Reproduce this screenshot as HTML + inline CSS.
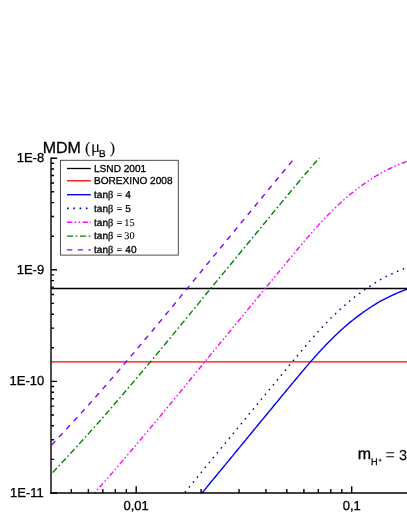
<!DOCTYPE html>
<html><head><meta charset="utf-8"><style>
html,body{margin:0;padding:0;background:#fff;}
body{width:407px;height:527px;overflow:hidden;}
svg{display:block;will-change:transform;}
text{font-family:"Liberation Sans",sans-serif;fill:#000;stroke:#000;stroke-width:0.3px;}
.se{font-family:"Liberation Serif",serif;stroke-width:0.1px;}
.b{stroke-width:0.25px;}
.c{fill:none;stroke-width:1.4;}
</style></head><body>
<svg width="407" height="527" viewBox="0 0 407 527">
<rect width="407" height="527" fill="#fff"/>
<!-- data -->
<path class="c" d="M51,288.5H408" stroke="#000" stroke-width="1.1"/>
<path class="c" d="M51,361.9H408" stroke="#f00" stroke-width="1.2"/>
<path class="c" d="M202.1,493.0 L203.0,491.8 L204.0,490.6 L205.0,489.4 L206.0,488.2 L207.0,486.9 L208.0,485.7 L209.0,484.5 L210.0,483.2 L211.0,482.0 L212.0,480.8 L213.0,479.6 L214.0,478.4 L215.0,477.2 L216.0,476.0 L217.0,474.8 L218.0,473.6 L219.0,472.3 L220.0,471.1 L221.0,469.9 L222.0,468.7 L223.0,467.5 L224.0,466.3 L225.0,465.1 L226.0,463.9 L227.0,462.6 L228.0,461.4 L229.0,460.2 L230.0,459.0 L231.0,457.8 L232.0,456.6 L233.0,455.4 L234.0,454.1 L235.0,452.9 L236.0,451.7 L237.0,450.5 L238.0,449.3 L239.0,448.1 L240.0,446.9 L241.0,445.6 L242.0,444.4 L243.0,443.2 L244.0,442.0 L245.0,440.8 L246.0,439.6 L247.0,438.3 L248.0,437.1 L249.0,435.9 L250.0,434.7 L251.0,433.5 L252.0,432.3 L253.0,431.0 L254.0,429.8 L255.0,428.6 L256.0,427.4 L257.0,426.2 L258.0,425.0 L259.0,423.8 L260.0,422.5 L261.0,421.3 L262.0,420.1 L263.0,418.9 L264.0,417.7 L265.0,416.5 L266.0,415.2 L267.0,414.0 L268.0,412.8 L269.0,411.6 L270.0,410.4 L271.0,409.2 L272.0,408.0 L273.0,406.7 L274.0,405.5 L275.0,404.3 L276.0,403.1 L277.0,401.9 L278.0,400.7 L279.0,399.5 L280.0,398.2 L281.0,397.0 L282.0,395.8 L283.0,394.6 L284.0,393.4 L285.0,392.2 L286.0,391.0 L287.0,389.8 L288.0,388.6 L289.0,387.4 L290.0,386.2 L291.0,385.0 L292.0,383.8 L293.0,382.6 L294.0,381.4 L295.0,380.2 L296.0,379.0 L297.0,377.8 L298.0,376.6 L299.0,375.4 L300.0,374.2 L301.0,373.0 L302.0,371.8 L303.0,370.6 L304.0,369.5 L305.0,368.3 L306.0,367.1 L307.0,365.9 L308.0,364.8 L309.0,363.6 L310.0,362.4 L311.0,361.3 L312.0,360.1 L313.0,359.0 L314.0,357.9 L315.0,356.7 L316.0,355.6 L317.0,354.5 L318.0,353.4 L319.0,352.3 L320.0,351.2 L321.0,350.1 L322.0,349.0 L323.0,348.0 L324.0,346.9 L325.0,345.9 L326.0,344.8 L327.0,343.8 L328.0,342.7 L329.0,341.7 L330.0,340.7 L331.0,339.7 L332.0,338.7 L333.0,337.7 L334.0,336.7 L335.0,335.8 L336.0,334.8 L337.0,333.9 L338.0,332.9 L339.0,332.0 L340.0,331.1 L341.0,330.2 L342.0,329.3 L343.0,328.4 L344.0,327.5 L345.0,326.6 L346.0,325.8 L347.0,324.9 L348.0,324.1 L349.0,323.2 L350.0,322.4 L351.0,321.6 L352.0,320.8 L353.0,320.0 L354.0,319.2 L355.0,318.4 L356.0,317.6 L357.0,316.9 L358.0,316.1 L359.0,315.4 L360.0,314.6 L361.0,313.9 L362.0,313.2 L363.0,312.4 L364.0,311.7 L365.0,311.0 L366.0,310.3 L367.0,309.6 L368.0,309.0 L369.0,308.3 L370.0,307.6 L371.0,307.0 L372.0,306.3 L373.0,305.7 L374.0,305.1 L375.0,304.4 L376.0,303.8 L377.0,303.2 L378.0,302.6 L379.0,302.0 L380.0,301.4 L381.0,300.9 L382.0,300.3 L383.0,299.8 L384.0,299.3 L385.0,298.8 L386.0,298.3 L387.0,297.8 L388.0,297.3 L389.0,296.8 L390.0,296.3 L391.0,295.8 L392.0,295.4 L393.0,294.9 L394.0,294.5 L395.0,294.0 L396.0,293.6 L397.0,293.1 L398.0,292.7 L399.0,292.3 L400.0,291.9 L401.0,291.5 L402.0,291.1 L403.0,290.7 L404.0,290.3 L405.0,289.9 L406.0,289.5 L407.0,289.2 L408.0,288.8 L409.0,288.4" stroke="#0000ff"/>
<path class="c" d="M184.4,493.0 L185.0,492.3 L186.0,491.1 L187.0,489.9 L188.0,488.6 L189.0,487.4 L190.0,486.2 L191.0,485.0 L192.0,483.8 L193.0,482.5 L194.0,481.3 L195.0,480.1 L196.0,478.9 L197.0,477.6 L198.0,476.4 L199.0,475.2 L200.0,474.0 L201.0,472.7 L202.0,471.5 L203.0,470.3 L204.0,469.0 L205.0,467.8 L206.0,466.6 L207.0,465.4 L208.0,464.1 L209.0,462.9 L210.0,461.7 L211.0,460.5 L212.0,459.3 L213.0,458.0 L214.0,456.8 L215.0,455.6 L216.0,454.4 L217.0,453.2 L218.0,452.0 L219.0,450.8 L220.0,449.6 L221.0,448.4 L222.0,447.1 L223.0,445.9 L224.0,444.7 L225.0,443.5 L226.0,442.3 L227.0,441.1 L228.0,439.9 L229.0,438.6 L230.0,437.4 L231.0,436.2 L232.0,435.0 L233.0,433.8 L234.0,432.6 L235.0,431.4 L236.0,430.1 L237.0,428.9 L238.0,427.7 L239.0,426.5 L240.0,425.3 L241.0,424.1 L242.0,422.9 L243.0,421.6 L244.0,420.4 L245.0,419.2 L246.0,418.0 L247.0,416.8 L248.0,415.6 L249.0,414.3 L250.0,413.1 L251.0,411.9 L252.0,410.7 L253.0,409.5 L254.0,408.3 L255.0,407.0 L256.0,405.8 L257.0,404.6 L258.0,403.4 L259.0,402.2 L260.0,401.0 L261.0,399.8 L262.0,398.5 L263.0,397.3 L264.0,396.1 L265.0,394.9 L266.0,393.7 L267.0,392.5 L268.0,391.2 L269.0,390.0 L270.0,388.8 L271.0,387.6 L272.0,386.4 L273.0,385.2 L274.0,384.0 L275.0,382.7 L276.0,381.5 L277.0,380.3 L278.0,379.1 L279.0,377.9 L280.0,376.7 L281.0,375.5 L282.0,374.3 L283.0,373.0 L284.0,371.8 L285.0,370.6 L286.0,369.4 L287.0,368.2 L288.0,367.0 L289.0,365.8 L290.0,364.6 L291.0,363.4 L292.0,362.2 L293.0,361.0 L294.0,359.8 L295.0,358.6 L296.0,357.4 L297.0,356.2 L298.0,355.0 L299.0,353.8 L300.0,352.7 L301.0,351.5 L302.0,350.3 L303.0,349.1 L304.0,347.9 L305.0,346.7 L306.0,345.5 L307.0,344.4 L308.0,343.2 L309.0,342.0 L310.0,340.9 L311.0,339.7 L312.0,338.6 L313.0,337.4 L314.0,336.3 L315.0,335.2 L316.0,334.1 L317.0,332.9 L318.0,331.8 L319.0,330.7 L320.0,329.6 L321.0,328.6 L322.0,327.5 L323.0,326.4 L324.0,325.3 L325.0,324.3 L326.0,323.2 L327.0,322.2 L328.0,321.2 L329.0,320.1 L330.0,319.1 L331.0,318.1 L332.0,317.1 L333.0,316.1 L334.0,315.2 L335.0,314.2 L336.0,313.2 L337.0,312.3 L338.0,311.4 L339.0,310.4 L340.0,309.5 L341.0,308.6 L342.0,307.7 L343.0,306.8 L344.0,305.9 L345.0,305.1 L346.0,304.2 L347.0,303.3 L348.0,302.5 L349.0,301.6 L350.0,300.8 L351.0,300.0 L352.0,299.2 L353.0,298.4 L354.0,297.6 L355.0,296.8 L356.0,296.0 L357.0,295.3 L358.0,294.5 L359.0,293.8 L360.0,293.1 L361.0,292.3 L362.0,291.6 L363.0,290.9 L364.0,290.2 L365.0,289.5 L366.0,288.8 L367.0,288.1 L368.0,287.4 L369.0,286.7 L370.0,286.1 L371.0,285.4 L372.0,284.8 L373.0,284.1 L374.0,283.5 L375.0,282.9 L376.0,282.2 L377.0,281.6 L378.0,281.0 L379.0,280.4 L380.0,279.9 L381.0,279.3 L382.0,278.8 L383.0,278.2 L384.0,277.7 L385.0,277.2 L386.0,276.7 L387.0,276.2 L388.0,275.7 L389.0,275.2 L390.0,274.7 L391.0,274.3 L392.0,273.8 L393.0,273.3 L394.0,272.9 L395.0,272.4 L396.0,272.0 L397.0,271.6 L398.0,271.1 L399.0,270.7 L400.0,270.3 L401.0,269.9 L402.0,269.5 L403.0,269.1 L404.0,268.7 L405.0,268.3 L406.0,268.0 L407.0,267.6 L408.0,267.2 L409.0,266.9" stroke="#000080" stroke-dasharray="1.6 4.7" stroke-width="1.7" stroke-dashoffset="5.5"/>
<path class="c" d="M94.5,493.0 L95.0,492.5 L96.0,491.3 L97.0,490.2 L98.0,489.1 L99.0,488.0 L100.0,486.8 L101.0,485.7 L102.0,484.6 L103.0,483.4 L104.0,482.3 L105.0,481.1 L106.0,480.0 L107.0,478.8 L108.0,477.7 L109.0,476.5 L110.0,475.4 L111.0,474.2 L112.0,473.1 L113.0,471.9 L114.0,470.7 L115.0,469.6 L116.0,468.4 L117.0,467.3 L118.0,466.1 L119.0,464.9 L120.0,463.8 L121.0,462.6 L122.0,461.4 L123.0,460.3 L124.0,459.1 L125.0,457.9 L126.0,456.8 L127.0,455.6 L128.0,454.4 L129.0,453.2 L130.0,452.1 L131.0,450.9 L132.0,449.7 L133.0,448.5 L134.0,447.4 L135.0,446.2 L136.0,445.0 L137.0,443.8 L138.0,442.6 L139.0,441.4 L140.0,440.3 L141.0,439.1 L142.0,437.9 L143.0,436.7 L144.0,435.5 L145.0,434.3 L146.0,433.1 L147.0,431.9 L148.0,430.7 L149.0,429.6 L150.0,428.4 L151.0,427.2 L152.0,426.0 L153.0,424.8 L154.0,423.6 L155.0,422.4 L156.0,421.2 L157.0,420.0 L158.0,418.8 L159.0,417.6 L160.0,416.4 L161.0,415.2 L162.0,414.0 L163.0,412.8 L164.0,411.5 L165.0,410.3 L166.0,409.1 L167.0,407.9 L168.0,406.7 L169.0,405.5 L170.0,404.3 L171.0,403.1 L172.0,401.9 L173.0,400.7 L174.0,399.5 L175.0,398.2 L176.0,397.0 L177.0,395.8 L178.0,394.6 L179.0,393.4 L180.0,392.2 L181.0,390.9 L182.0,389.7 L183.0,388.5 L184.0,387.3 L185.0,386.1 L186.0,384.9 L187.0,383.6 L188.0,382.4 L189.0,381.2 L190.0,380.0 L191.0,378.7 L192.0,377.5 L193.0,376.3 L194.0,375.1 L195.0,373.9 L196.0,372.6 L197.0,371.4 L198.0,370.2 L199.0,369.0 L200.0,367.7 L201.0,366.5 L202.0,365.3 L203.0,364.0 L204.0,362.8 L205.0,361.6 L206.0,360.4 L207.0,359.1 L208.0,357.9 L209.0,356.7 L210.0,355.4 L211.0,354.2 L212.0,353.0 L213.0,351.8 L214.0,350.6 L215.0,349.4 L216.0,348.2 L217.0,347.0 L218.0,345.8 L219.0,344.5 L220.0,343.3 L221.0,342.1 L222.0,340.9 L223.0,339.7 L224.0,338.5 L225.0,337.3 L226.0,336.1 L227.0,334.8 L228.0,333.6 L229.0,332.4 L230.0,331.2 L231.0,330.0 L232.0,328.8 L233.0,327.6 L234.0,326.3 L235.0,325.1 L236.0,323.9 L237.0,322.7 L238.0,321.5 L239.0,320.3 L240.0,319.1 L241.0,317.8 L242.0,316.6 L243.0,315.4 L244.0,314.2 L245.0,313.0 L246.0,311.8 L247.0,310.5 L248.0,309.3 L249.0,308.1 L250.0,306.9 L251.0,305.7 L252.0,304.5 L253.0,303.2 L254.0,302.0 L255.0,300.8 L256.0,299.6 L257.0,298.4 L258.0,297.2 L259.0,296.0 L260.0,294.7 L261.0,293.5 L262.0,292.3 L263.0,291.1 L264.0,289.9 L265.0,288.7 L266.0,287.4 L267.0,286.2 L268.0,285.0 L269.0,283.8 L270.0,282.6 L271.0,281.4 L272.0,280.2 L273.0,278.9 L274.0,277.7 L275.0,276.5 L276.0,275.3 L277.0,274.1 L278.0,272.9 L279.0,271.7 L280.0,270.4 L281.0,269.2 L282.0,268.0 L283.0,266.8 L284.0,265.6 L285.0,264.4 L286.0,263.2 L287.0,262.0 L288.0,260.8 L289.0,259.6 L290.0,258.4 L291.0,257.2 L292.0,256.0 L293.0,254.8 L294.0,253.6 L295.0,252.4 L296.0,251.2 L297.0,250.0 L298.0,248.8 L299.0,247.6 L300.0,246.4 L301.0,245.2 L302.0,244.0 L303.0,242.8 L304.0,241.7 L305.0,240.5 L306.0,239.3 L307.0,238.1 L308.0,237.0 L309.0,235.8 L310.0,234.6 L311.0,233.5 L312.0,232.3 L313.0,231.2 L314.0,230.1 L315.0,228.9 L316.0,227.8 L317.0,226.7 L318.0,225.6 L319.0,224.5 L320.0,223.4 L321.0,222.3 L322.0,221.2 L323.0,220.2 L324.0,219.1 L325.0,218.1 L326.0,217.0 L327.0,216.0 L328.0,214.9 L329.0,213.9 L330.0,212.9 L331.0,211.9 L332.0,210.9 L333.0,209.9 L334.0,208.9 L335.0,208.0 L336.0,207.0 L337.0,206.1 L338.0,205.1 L339.0,204.2 L340.0,203.3 L341.0,202.4 L342.0,201.5 L343.0,200.6 L344.0,199.7 L345.0,198.8 L346.0,198.0 L347.0,197.1 L348.0,196.3 L349.0,195.4 L350.0,194.6 L351.0,193.8 L352.0,193.0 L353.0,192.2 L354.0,191.4 L355.0,190.6 L356.0,189.8 L357.0,189.1 L358.0,188.3 L359.0,187.6 L360.0,186.8 L361.0,186.1 L362.0,185.4 L363.0,184.6 L364.0,183.9 L365.0,183.2 L366.0,182.5 L367.0,181.8 L368.0,181.2 L369.0,180.5 L370.0,179.8 L371.0,179.2 L372.0,178.5 L373.0,177.9 L374.0,177.3 L375.0,176.6 L376.0,176.0 L377.0,175.4 L378.0,174.8 L379.0,174.2 L380.0,173.6 L381.0,173.1 L382.0,172.5 L383.0,172.0 L384.0,171.5 L385.0,171.0 L386.0,170.5 L387.0,170.0 L388.0,169.5 L389.0,169.0 L390.0,168.5 L391.0,168.0 L392.0,167.6 L393.0,167.1 L394.0,166.7 L395.0,166.2 L396.0,165.8 L397.0,165.3 L398.0,164.9 L399.0,164.5 L400.0,164.1 L401.0,163.7 L402.0,163.3 L403.0,162.9 L404.0,162.5 L405.0,162.1 L406.0,161.7 L407.0,161.4 L408.0,161.0 L409.0,160.6" stroke="#ff00ff" stroke-dasharray="5.2 2.35 1.5 2.4 1.5 2.43" stroke-dashoffset="7.58"/>
<path class="c" d="M51.0,474.3 L52.0,473.2 L53.0,472.2 L54.0,471.1 L55.0,470.1 L56.0,469.0 L57.0,467.9 L58.0,466.9 L59.0,465.8 L60.0,464.7 L61.0,463.7 L62.0,462.6 L63.0,461.5 L64.0,460.4 L65.0,459.4 L66.0,458.3 L67.0,457.2 L68.0,456.1 L69.0,455.0 L70.0,453.9 L71.0,452.9 L72.0,451.8 L73.0,450.7 L74.0,449.6 L75.0,448.5 L76.0,447.4 L77.0,446.3 L78.0,445.2 L79.0,444.1 L80.0,443.0 L81.0,441.9 L82.0,440.8 L83.0,439.7 L84.0,438.6 L85.0,437.5 L86.0,436.4 L87.0,435.3 L88.0,434.2 L89.0,433.1 L90.0,431.9 L91.0,430.8 L92.0,429.7 L93.0,428.6 L94.0,427.5 L95.0,426.4 L96.0,425.2 L97.0,424.1 L98.0,423.0 L99.0,421.9 L100.0,420.7 L101.0,419.6 L102.0,418.5 L103.0,417.3 L104.0,416.2 L105.0,415.0 L106.0,413.9 L107.0,412.7 L108.0,411.6 L109.0,410.4 L110.0,409.3 L111.0,408.1 L112.0,407.0 L113.0,405.8 L114.0,404.6 L115.0,403.5 L116.0,402.3 L117.0,401.2 L118.0,400.0 L119.0,398.8 L120.0,397.7 L121.0,396.5 L122.0,395.3 L123.0,394.2 L124.0,393.0 L125.0,391.8 L126.0,390.7 L127.0,389.5 L128.0,388.3 L129.0,387.1 L130.0,386.0 L131.0,384.8 L132.0,383.6 L133.0,382.4 L134.0,381.3 L135.0,380.1 L136.0,378.9 L137.0,377.7 L138.0,376.5 L139.0,375.3 L140.0,374.2 L141.0,373.0 L142.0,371.8 L143.0,370.6 L144.0,369.4 L145.0,368.2 L146.0,367.0 L147.0,365.8 L148.0,364.6 L149.0,363.5 L150.0,362.3 L151.0,361.1 L152.0,359.9 L153.0,358.7 L154.0,357.5 L155.0,356.3 L156.0,355.1 L157.0,353.9 L158.0,352.7 L159.0,351.5 L160.0,350.3 L161.0,349.1 L162.0,347.9 L163.0,346.7 L164.0,345.4 L165.0,344.2 L166.0,343.0 L167.0,341.8 L168.0,340.6 L169.0,339.4 L170.0,338.2 L171.0,337.0 L172.0,335.8 L173.0,334.6 L174.0,333.4 L175.0,332.1 L176.0,330.9 L177.0,329.7 L178.0,328.5 L179.0,327.3 L180.0,326.1 L181.0,324.8 L182.0,323.6 L183.0,322.4 L184.0,321.2 L185.0,320.0 L186.0,318.8 L187.0,317.5 L188.0,316.3 L189.0,315.1 L190.0,313.9 L191.0,312.6 L192.0,311.4 L193.0,310.2 L194.0,309.0 L195.0,307.8 L196.0,306.5 L197.0,305.3 L198.0,304.1 L199.0,302.9 L200.0,301.6 L201.0,300.4 L202.0,299.2 L203.0,297.9 L204.0,296.7 L205.0,295.5 L206.0,294.3 L207.0,293.0 L208.0,291.8 L209.0,290.6 L210.0,289.3 L211.0,288.1 L212.0,286.9 L213.0,285.7 L214.0,284.5 L215.0,283.3 L216.0,282.1 L217.0,280.9 L218.0,279.7 L219.0,278.4 L220.0,277.2 L221.0,276.0 L222.0,274.8 L223.0,273.6 L224.0,272.4 L225.0,271.2 L226.0,270.0 L227.0,268.7 L228.0,267.5 L229.0,266.3 L230.0,265.1 L231.0,263.9 L232.0,262.7 L233.0,261.5 L234.0,260.2 L235.0,259.0 L236.0,257.8 L237.0,256.6 L238.0,255.4 L239.0,254.2 L240.0,253.0 L241.0,251.7 L242.0,250.5 L243.0,249.3 L244.0,248.1 L245.0,246.9 L246.0,245.7 L247.0,244.4 L248.0,243.2 L249.0,242.0 L250.0,240.8 L251.0,239.6 L252.0,238.4 L253.0,237.1 L254.0,235.9 L255.0,234.7 L256.0,233.5 L257.0,232.3 L258.0,231.1 L259.0,229.9 L260.0,228.6 L261.0,227.4 L262.0,226.2 L263.0,225.0 L264.0,223.8 L265.0,222.6 L266.0,221.3 L267.0,220.1 L268.0,218.9 L269.0,217.7 L270.0,216.5 L271.0,215.3 L272.0,214.1 L273.0,212.8 L274.0,211.6 L275.0,210.4 L276.0,209.2 L277.0,208.0 L278.0,206.8 L279.0,205.6 L280.0,204.3 L281.0,203.1 L282.0,201.9 L283.0,200.7 L284.0,199.5 L285.0,198.3 L286.0,197.1 L287.0,195.9 L288.0,194.7 L289.0,193.5 L290.0,192.3 L291.0,191.1 L292.0,189.9 L293.0,188.7 L294.0,187.5 L295.0,186.3 L296.0,185.1 L297.0,183.9 L298.0,182.7 L299.0,181.5 L300.0,180.3 L301.0,179.1 L302.0,177.9 L303.0,176.7 L304.0,175.6 L305.0,174.4 L306.0,173.2 L307.0,172.0 L308.0,170.9 L309.0,169.7 L310.0,168.5 L311.0,167.4 L312.0,166.2 L313.0,165.1 L314.0,164.0 L315.0,162.8 L316.0,161.7 L317.0,160.6 L318.0,159.5 L319.0,158.4 L319.4,158.0" stroke="#008000" stroke-dasharray="6.1 2.6 1.7 2.6" stroke-dashoffset="10.5"/>
<path class="c" d="M51.0,445.6 L52.0,444.5 L53.0,443.5 L54.0,442.4 L55.0,441.4 L56.0,440.3 L57.0,439.2 L58.0,438.2 L59.0,437.1 L60.0,436.0 L61.0,435.0 L62.0,433.9 L63.0,432.8 L64.0,431.7 L65.0,430.7 L66.0,429.6 L67.0,428.5 L68.0,427.4 L69.0,426.3 L70.0,425.2 L71.0,424.2 L72.0,423.1 L73.0,422.0 L74.0,420.9 L75.0,419.8 L76.0,418.7 L77.0,417.6 L78.0,416.5 L79.0,415.4 L80.0,414.3 L81.0,413.2 L82.0,412.1 L83.0,411.0 L84.0,409.9 L85.0,408.8 L86.0,407.7 L87.0,406.6 L88.0,405.5 L89.0,404.4 L90.0,403.2 L91.0,402.1 L92.0,401.0 L93.0,399.9 L94.0,398.8 L95.0,397.7 L96.0,396.5 L97.0,395.4 L98.0,394.3 L99.0,393.2 L100.0,392.0 L101.0,390.9 L102.0,389.8 L103.0,388.6 L104.0,387.5 L105.0,386.3 L106.0,385.2 L107.0,384.0 L108.0,382.9 L109.0,381.7 L110.0,380.6 L111.0,379.4 L112.0,378.3 L113.0,377.1 L114.0,375.9 L115.0,374.8 L116.0,373.6 L117.0,372.5 L118.0,371.3 L119.0,370.1 L120.0,369.0 L121.0,367.8 L122.0,366.6 L123.0,365.5 L124.0,364.3 L125.0,363.1 L126.0,362.0 L127.0,360.8 L128.0,359.6 L129.0,358.4 L130.0,357.3 L131.0,356.1 L132.0,354.9 L133.0,353.7 L134.0,352.6 L135.0,351.4 L136.0,350.2 L137.0,349.0 L138.0,347.8 L139.0,346.6 L140.0,345.5 L141.0,344.3 L142.0,343.1 L143.0,341.9 L144.0,340.7 L145.0,339.5 L146.0,338.3 L147.0,337.1 L148.0,335.9 L149.0,334.8 L150.0,333.6 L151.0,332.4 L152.0,331.2 L153.0,330.0 L154.0,328.8 L155.0,327.6 L156.0,326.4 L157.0,325.2 L158.0,324.0 L159.0,322.8 L160.0,321.6 L161.0,320.4 L162.0,319.2 L163.0,318.0 L164.0,316.7 L165.0,315.5 L166.0,314.3 L167.0,313.1 L168.0,311.9 L169.0,310.7 L170.0,309.5 L171.0,308.3 L172.0,307.1 L173.0,305.9 L174.0,304.7 L175.0,303.4 L176.0,302.2 L177.0,301.0 L178.0,299.8 L179.0,298.6 L180.0,297.4 L181.0,296.1 L182.0,294.9 L183.0,293.7 L184.0,292.5 L185.0,291.3 L186.0,290.1 L187.0,288.8 L188.0,287.6 L189.0,286.4 L190.0,285.2 L191.0,283.9 L192.0,282.7 L193.0,281.5 L194.0,280.3 L195.0,279.1 L196.0,277.8 L197.0,276.6 L198.0,275.4 L199.0,274.2 L200.0,272.9 L201.0,271.7 L202.0,270.5 L203.0,269.2 L204.0,268.0 L205.0,266.8 L206.0,265.6 L207.0,264.3 L208.0,263.1 L209.0,261.9 L210.0,260.6 L211.0,259.4 L212.0,258.2 L213.0,257.0 L214.0,255.8 L215.0,254.6 L216.0,253.4 L217.0,252.2 L218.0,251.0 L219.0,249.7 L220.0,248.5 L221.0,247.3 L222.0,246.1 L223.0,244.9 L224.0,243.7 L225.0,242.5 L226.0,241.3 L227.0,240.0 L228.0,238.8 L229.0,237.6 L230.0,236.4 L231.0,235.2 L232.0,234.0 L233.0,232.8 L234.0,231.5 L235.0,230.3 L236.0,229.1 L237.0,227.9 L238.0,226.7 L239.0,225.5 L240.0,224.3 L241.0,223.0 L242.0,221.8 L243.0,220.6 L244.0,219.4 L245.0,218.2 L246.0,217.0 L247.0,215.7 L248.0,214.5 L249.0,213.3 L250.0,212.1 L251.0,210.9 L252.0,209.7 L253.0,208.4 L254.0,207.2 L255.0,206.0 L256.0,204.8 L257.0,203.6 L258.0,202.4 L259.0,201.2 L260.0,199.9 L261.0,198.7 L262.0,197.5 L263.0,196.3 L264.0,195.1 L265.0,193.9 L266.0,192.6 L267.0,191.4 L268.0,190.2 L269.0,189.0 L270.0,187.8 L271.0,186.6 L272.0,185.4 L273.0,184.1 L274.0,182.9 L275.0,181.7 L276.0,180.5 L277.0,179.3 L278.0,178.1 L279.0,176.9 L280.0,175.6 L281.0,174.4 L282.0,173.2 L283.0,172.0 L284.0,170.8 L285.0,169.6 L286.0,168.4 L287.0,167.2 L288.0,166.0 L289.0,164.8 L290.0,163.6 L291.0,162.4 L292.0,161.2 L293.0,160.0 L294.0,158.8 L294.6,158.0" stroke="#8000ff" stroke-dasharray="5.35 5.45" stroke-dashoffset="9.9"/>
<!-- axes -->
<path d="M51.0,157.6V493.75" stroke="#000" stroke-width="1.4" fill="none"/>
<path d="M50.25,493.0H408" stroke="#000" stroke-width="1.5" fill="none"/>
<path d="M51.0,493.00h6 M51.0,459.41h3 M51.0,439.75h3 M51.0,425.81h3 M51.0,414.99h3 M51.0,406.16h3 M51.0,398.69h3 M51.0,392.22h3 M51.0,386.51h3 M51.0,381.40h6 M51.0,347.81h3 M51.0,328.15h3 M51.0,314.21h3 M51.0,303.39h3 M51.0,294.56h3 M51.0,287.09h3 M51.0,280.62h3 M51.0,274.91h3 M51.0,269.80h6 M51.0,236.21h3 M51.0,216.55h3 M51.0,202.61h3 M51.0,191.79h3 M51.0,182.96h3 M51.0,175.49h3 M51.0,169.02h3 M51.0,163.31h3 M51.0,158.20h6 M71.33,493.0v-4 M88.39,493.0v-4 M102.82,493.0v-4 M115.32,493.0v-4 M126.34,493.0v-4 M136.20,493.0v-6.8 M201.07,493.0v-4 M239.02,493.0v-4 M265.94,493.0v-4 M286.83,493.0v-4 M303.89,493.0v-4 M318.32,493.0v-4 M330.82,493.0v-4 M341.84,493.0v-4 M351.70,493.0v-6.8" stroke="#000" stroke-width="1.4" fill="none"/>
<!-- labels -->
<g font-size="13" text-anchor="end">
<text transform="matrix(1 0 0.001 1 -0.162 0)" x="44.2" y="162.1">1E-8</text>
<text transform="matrix(1 0 0.001 1 -0.274 0)" x="44.2" y="273.8">1E-9</text>
<text transform="matrix(1 0 0.001 1 -0.385 0)" x="44.2" y="385.0">1E-10</text>
<text transform="matrix(1 0 0.001 1 -0.497 0)" x="43.7" y="497.2">1E-11</text>
</g>
<g font-size="13" text-anchor="middle">
<text transform="matrix(1 0 0.001 1 -0.510 0)" x="136.2" y="510.2">0,01</text>
<text transform="matrix(1 0 0.001 1 -0.510 0)" x="351.7" y="510.2">0,1</text>
</g>
<text transform="matrix(1 0 0.001 1 -0.153 0)" x="42.7" y="152.8" font-size="16">MDM</text>
<text transform="matrix(1 0 0.001 1 -0.153 0)" x="85.0" y="152.7" font-size="16" class="se">(</text><text transform="matrix(1 0 0.001 1 -0.152 0)" x="90.9" y="152.5" font-size="17" class="se" style="stroke-width:0">μ</text>
<text transform="matrix(1 0 0.001 1 -0.158 0)" x="98.9" y="157.5" font-size="10">B</text>
<text transform="matrix(1 0 0.001 1 -0.153 0)" x="109.8" y="152.7" font-size="16" class="se">)</text>
<text transform="matrix(1 0 0.001 1 -0.459 0)" x="357.8" y="459.4" font-size="16">m</text>
<text transform="matrix(1 0 0.001 1 -0.465 0)" x="371.1" y="464.9" font-size="9.5" textLength="6.6" lengthAdjust="spacingAndGlyphs">H</text>
<text transform="matrix(1 0 0.001 1 -0.462 0)" x="378.4" y="461.6" font-size="5.5">+</text>
<text transform="matrix(1 0 0.001 1 -0.460 0)" x="385.6" y="460.1" font-size="16" style="stroke-width:0">=</text><text transform="matrix(1 0 0.001 1 -0.460 0)" x="399.0" y="459.8" font-size="14.5" style="stroke-width:0.1px">3</text>
<!-- legend -->
<rect x="60.4" y="160.3" width="117.9" height="94.8" fill="#fff" stroke="#3a3a3a" stroke-width="0.9"/>
<g class="c">
<path d="M67,168.5H90.8" stroke="#000" stroke-width="1.3"/>
<path d="M67,180.8H90.8" stroke="#f00" stroke-width="1.3"/>
<path d="M67,194.7H90.8" stroke="#00f"/>
<path d="M67,208.4H90.8" stroke="#000080" stroke-dasharray="1.6 4.7" stroke-width="1.7"/>
<path d="M67,222.3H90.8" stroke="#f0f" stroke-dasharray="5.2 2.4 1.5 2.5 1.5 2.5"/>
<path d="M67,236.1H90.8" stroke="#008000" stroke-dasharray="6.1 2.6 1.7 2.6"/>
<path d="M67,249.9H90.8" stroke="#8000ff" stroke-dasharray="5.3 5.4"/>
</g>
<g font-size="10.1">
<text transform="matrix(1 0 0.001 1 -0.172 0)" x="94.0" y="171.7">LSND 2001</text>
<text transform="matrix(1 0 0.001 1 -0.184 0)" x="94.0" y="184.5">BOREXINO 2008</text>
<text transform="matrix(1 0 0.001 1 -0.198 0)" x="94.0" y="198.0">tan<tspan class="se b" font-size="10.3">β</tspan><tspan class="se" font-size="10.3" dx="0.7"> = </tspan><tspan dx="0.3">4</tspan></text>
<text transform="matrix(1 0 0.001 1 -0.212 0)" x="94.0" y="211.8">tan<tspan class="se b" font-size="10.3">β</tspan><tspan class="se" font-size="10.3" dx="0.7"> = </tspan><tspan dx="0.3">5</tspan></text>
<text transform="matrix(1 0 0.001 1 -0.226 0)" x="94.0" y="225.6">tan<tspan class="se b" font-size="10.3">β</tspan><tspan class="se" font-size="10.3" dx="0.7"> = </tspan><tspan class="se" font-size="10.3" dx="-0.6">15</tspan></text>
<text transform="matrix(1 0 0.001 1 -0.239 0)" x="94.0" y="239.4">tan<tspan class="se b" font-size="10.3">β</tspan><tspan class="se" font-size="10.3" dx="0.7"> = </tspan><tspan class="se" font-size="10.3" dx="-0.6">30</tspan></text>
<text transform="matrix(1 0 0.001 1 -0.253 0)" x="94.0" y="253.0">tan<tspan class="se b" font-size="10.3">β</tspan><tspan class="se" font-size="10.3" dx="0.7"> = </tspan><tspan dx="0.3">40</tspan></text>
</g>
</svg>
</body></html>
